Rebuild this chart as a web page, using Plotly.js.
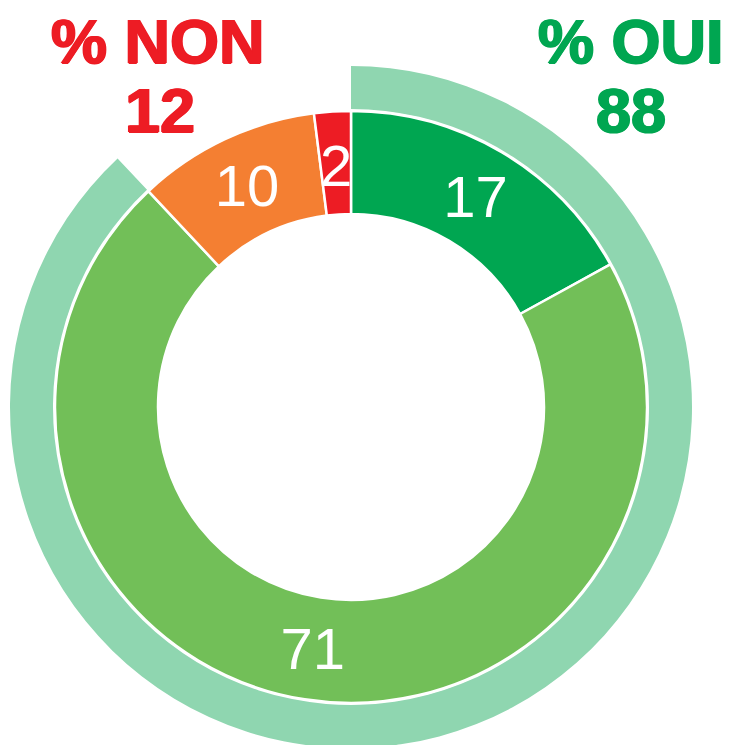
<!DOCTYPE html>
<html>
<head>
<meta charset="utf-8">
<script src="https://cdn.plot.ly/plotly-3.0.1.min.js"></script>
<style>
html,body{margin:0;padding:0;background:#fff;overflow:hidden;width:732px;height:745px;}
#chart{width:732px;height:760px;}
</style>
</head>
<body>
<div id="chart"></div>
<script>
// Data
const sliceLabels = ["Oui, tout à fait", "Oui, plutôt", "Non, plutôt pas", "Non, pas du tout"];
const sliceValues = [17, 71, 10, 2];
const sliceColors = ["#00A651", "#72BF58", "#F47F32", "#ED1C24"];

const summaryLabels = ["% OUI", "% NON"];
const summaryValues = [88, 12];
const summaryColors = ["#8FD6B0", "rgba(0,0,0,0)"];
const summaryTextColors = ["#00A651", "#ED1C24"];

// Geometry (pixels)
const W = 732, H = 760;
const cx = 351, cy = 407;
const rOuter = 341, rOuterInner = 298;
const rDonut = 296, rHole = 193;
const labelFont = {family: "Liberation Sans, Arial, sans-serif", size: 58, color: "#ffffff"};

function dom(R){
  return {
    x: [(cx - R) / W, (cx + R) / W],
    y: [1 - (cy + R) / H, 1 - (cy - R) / H]
  };
}

// slices too thin for Plotly's inside text get an annotation placed at the slice middle
const total = sliceValues.reduce((a, b) => a + b, 0);
const smallSlice = sliceValues.map(v => v / total < 0.05);
const templates = smallSlice.map(s => s ? " " : "%{value}");

const outerTrace = {
  type: "pie",
  labels: summaryLabels,
  values: summaryValues,
  marker: {colors: summaryColors, line: {width: 0}},
  hole: rOuterInner / rOuter,
  sort: false,
  direction: "clockwise",
  rotation: 0,
  textinfo: "none",
  hoverinfo: "skip",
  domain: dom(rOuter),
  showlegend: false
};

const innerTrace = {
  type: "pie",
  labels: sliceLabels,
  values: sliceValues,
  marker: {colors: sliceColors, line: {color: "#ffffff", width: 2.5}},
  hole: rHole / rDonut,
  sort: false,
  direction: "clockwise",
  rotation: 0,
  texttemplate: templates,
  textposition: "inside",
  insidetextorientation: "horizontal",
  insidetextfont: labelFont,
  hoverinfo: "label+value",
  domain: dom(rDonut),
  showlegend: false
};

const headFont = (c) => ({
  family: "Liberation Sans, Arial, sans-serif", size: 63, color: c, weight: 900,
  shadow: "1px 0 0 " + c + ", -1px 0 0 " + c + ", 0 1px 0 " + c
});

const annotations = [
  {text: "<b>" + summaryLabels[1] + "</b>", x: 158 / W, y: 1 - 41 / H, xref: "paper", yref: "paper",
   xanchor: "center", yanchor: "middle", showarrow: false, font: headFont(summaryTextColors[1])},
  {text: "<b>" + summaryValues[1] + "</b>", x: 160 / W, y: 1 - 110 / H, xref: "paper", yref: "paper",
   xanchor: "center", yanchor: "middle", showarrow: false, font: headFont(summaryTextColors[1])},
  {text: "<b>" + summaryLabels[0] + "</b>", x: 631 / W, y: 1 - 41 / H, xref: "paper", yref: "paper",
   xanchor: "center", yanchor: "middle", showarrow: false, font: headFont(summaryTextColors[0])},
  {text: "<b>" + summaryValues[0] + "</b>", x: 631 / W, y: 1 - 110 / H, xref: "paper", yref: "paper",
   xanchor: "center", yanchor: "middle", showarrow: false, font: headFont(summaryTextColors[0])}
];

// labels for thin slices, at the middle angle and middle radius of the ring
let cum = 0;
const rMid = (rDonut + rHole) / 2;
sliceValues.forEach((v, i) => {
  const midFrac = (cum + v / 2) / total;
  cum += v;
  if (!smallSlice[i]) return;
  const th = midFrac * 2 * Math.PI;
  const px = cx + rMid * Math.sin(th);
  const py = cy - rMid * Math.cos(th) + 3;
  annotations.push({
    text: String(v), x: px / W, y: 1 - py / H, xref: "paper", yref: "paper",
    xanchor: "center", yanchor: "middle", showarrow: false, font: labelFont
  });
});

const layout = {
  width: W,
  height: H,
  margin: {l: 0, r: 0, t: 0, b: 0, pad: 0},
  paper_bgcolor: "#ffffff",
  plot_bgcolor: "#ffffff",
  showlegend: false,
  uniformtext: {mode: "show", minsize: 58},
  annotations: annotations
};

Plotly.newPlot("chart", [outerTrace, innerTrace], layout, {displayModeBar: false, staticPlot: true});
</script>
</body>
</html>
